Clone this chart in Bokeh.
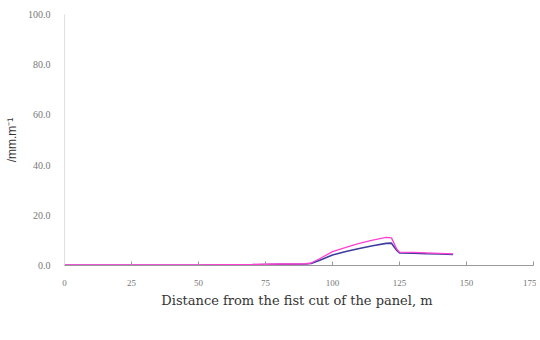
from bokeh.plotting import figure
from bokeh.models import Range1d, NumeralTickFormatter, FixedTicker, Legend
from bokeh.embed import file_html
from bokeh.resources import INLINE

distance = [0, 10, 20, 30, 40, 50, 60, 70, 75, 80, 85, 90, 92, 95, 100, 105, 110, 115, 120, 122, 124, 125, 130, 135, 140, 145]
surface_velocity = [0.1, 0.1, 0.1, 0.1, 0.1, 0.1, 0.2, 0.3, 0.4, 0.5, 0.5, 0.6, 0.8, 2.0, 4.2, 5.6, 6.8, 7.9, 8.8, 8.9, 6.0, 5.0, 4.9, 4.7, 4.6, 4.4]
strata_velocity = [0.2, 0.2, 0.2, 0.2, 0.2, 0.2, 0.3, 0.4, 0.5, 0.6, 0.6, 0.7, 1.0, 2.6, 5.5, 7.2, 8.8, 10.1, 11.2, 11.0, 6.5, 5.3, 5.2, 5.0, 4.8, 4.6]
x_ticks = [0, 25, 50, 75, 100, 125, 150, 175]
y_ticks = [0, 20, 40, 60, 80, 100]

p = figure(width=536, height=331, frame_width=469, frame_height=251,
           output_backend="svg", toolbar_location=None,
           x_range=Range1d(0, 175), y_range=Range1d(0, 100),
           min_border_left=64, min_border_top=14, min_border_right=3, min_border_bottom=0)
p.outline_line_color = None
p.xgrid.grid_line_color = None
p.ygrid.grid_line_color = None

r1 = p.line(distance, surface_velocity, line_color="#3d3da0", line_width=1.6)
r2 = p.line(distance, strata_velocity, line_color="#ff40d2", line_width=1.3)

p.xaxis.ticker = FixedTicker(ticks=x_ticks)
p.yaxis.ticker = FixedTicker(ticks=y_ticks)
p.yaxis.formatter = NumeralTickFormatter(format="0.0")
for ax in (p.xaxis, p.yaxis):
    ax.major_label_text_color = "#777777"
    ax.major_label_text_font = "Liberation Serif"
    ax.minor_tick_line_color = None
p.xaxis.major_label_text_font_size = "9px"
p.yaxis.major_label_text_font_size = "10px"
p.xaxis.axis_line_color = "#999999"
p.xaxis.major_tick_line_color = "#999999"
p.xaxis.major_tick_in = 4
p.xaxis.major_tick_out = 0
p.yaxis.axis_line_color = "#e0e0e0"
p.yaxis.major_tick_line_color = None
p.xaxis.major_label_standoff = 14
p.yaxis.major_label_standoff = 8

p.xaxis.axis_label = "Distance from  the fist cut of the panel, m"
p.xaxis.axis_label_text_font = "DejaVu Serif"
p.xaxis.axis_label_text_font_style = "normal"
p.xaxis.axis_label_text_font_size = "13px"
p.xaxis.axis_label_text_color = "#333333"
p.xaxis.axis_label_standoff = 4

p.yaxis.axis_label = "/mm.m\u207b\u00b9"
p.yaxis.axis_label_text_font = "Liberation Sans"
p.yaxis.axis_label_text_font_style = "normal"
p.yaxis.axis_label_text_font_size = "12px"
p.yaxis.axis_label_text_color = "#333333"
p.yaxis.axis_label_standoff = 6

legend = Legend(items=[("Surface subsidence velocity", [r1]), ("Key strata movement velocity", [r2])],
                orientation="horizontal", location=(49, 20),
                label_text_font_size="10.5px", label_text_color="#555555",
                glyph_width=18, glyph_height=8, label_height=8, spacing=4,
                label_standoff=3, padding=0, margin=0,
                border_line_color=None, background_fill_alpha=0)
p.add_layout(legend, "below")

open("out.html", "w").write(file_html(p, INLINE))
